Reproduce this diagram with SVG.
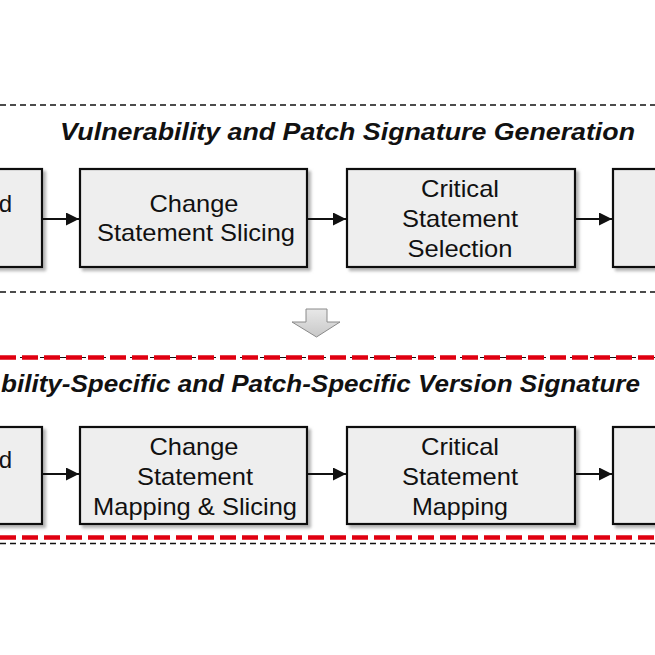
<svg xmlns="http://www.w3.org/2000/svg" width="655" height="655" viewBox="0 0 655 655">
<defs>
<style>
.box{fill:#eeeeee;stroke:#111;stroke-width:2.2;filter:url(#sh)}
.t{font-family:"Liberation Sans",Arial,sans-serif;font-size:24px;fill:#111;text-anchor:middle}
.title{font-family:"Liberation Sans",Arial,sans-serif;font-size:23.5px;font-weight:bold;font-style:italic;fill:#111}
.conn{stroke:#111;stroke-width:1.8;fill:none;marker-end:url(#ah)}
.bd{stroke:#111;stroke-width:1.7;stroke-dasharray:6 4;fill:none}
.rd{stroke:#e00010;stroke-width:4.5;stroke-dasharray:16 6;fill:none}
</style>
<filter id="sh" x="-10%" y="-10%" width="130%" height="130%">
<feDropShadow dx="3" dy="3" stdDeviation="1.8" flood-color="#777" flood-opacity="0.55"/>
</filter>
<marker id="ah" viewBox="0 0 13 13" refX="13" refY="6.5" markerWidth="13" markerHeight="13" markerUnits="userSpaceOnUse" orient="auto">
<path d="M0,0 L13,6.5 L0,13 Z" fill="#111"/>
</marker>
<linearGradient id="ga" x1="0" y1="0" x2="0" y2="1">
<stop offset="0" stop-color="#e8e8e8"/>
<stop offset="1" stop-color="#c8c8c8"/>
</linearGradient>
</defs>
<rect width="655" height="655" fill="#ffffff"/>

<g id="section-lines">
<line class="bd" x1="0" y1="105" x2="655" y2="105"/>
<line class="bd" x1="0" y1="292" x2="655" y2="292"/>
<line class="bd" x1="0" y1="357.5" x2="655" y2="357.5" style="stroke-width:1.2"/>
<line class="rd" x1="0" y1="357.5" x2="655" y2="357.5"/>
<line class="rd" x1="0" y1="537.5" x2="655" y2="537.5"/>
<line class="bd" x1="0" y1="543.5" x2="655" y2="543.5"/>
</g>

<text id="title-top" class="title" x="60" y="140" textLength="575" lengthAdjust="spacingAndGlyphs">Vulnerability and Patch Signature Generation</text>
<text id="title-bottom" class="title" x="1" y="392" textLength="639" lengthAdjust="spacingAndGlyphs">bility-Specific and Patch-Specific Version Signature</text>

<g id="node-top-1">
<rect class="box" x="-10" y="169" width="52" height="98"/>
<text class="t" x="12" y="212" style="text-anchor:end">d</text>
</g>
<g id="node-top-2">
<rect class="box" x="80" y="169" width="227" height="98"/>
<text class="t" x="194" y="212" textLength="89" lengthAdjust="spacingAndGlyphs">Change</text>
<text class="t" x="196" y="241" textLength="198" lengthAdjust="spacingAndGlyphs">Statement Slicing</text>
</g>
<g id="node-top-3">
<rect class="box" x="347" y="169" width="228" height="98"/>
<text class="t" x="460" y="197" textLength="78" lengthAdjust="spacingAndGlyphs">Critical</text>
<text class="t" x="460" y="227" textLength="116" lengthAdjust="spacingAndGlyphs">Statement</text>
<text class="t" x="460" y="257" textLength="105" lengthAdjust="spacingAndGlyphs">Selection</text>
</g>
<g id="node-top-4">
<rect class="box" x="613" y="169" width="60" height="98"/>
</g>

<g id="node-bottom-1">
<rect class="box" x="-10" y="427" width="52" height="97"/>
<text class="t" x="12" y="468" style="text-anchor:end">d</text>
</g>
<g id="node-bottom-2">
<rect class="box" x="80" y="427" width="227" height="97"/>
<text class="t" x="194" y="455" textLength="89" lengthAdjust="spacingAndGlyphs">Change</text>
<text class="t" x="195" y="485" textLength="116" lengthAdjust="spacingAndGlyphs">Statement</text>
<text class="t" x="195" y="515" textLength="204" lengthAdjust="spacingAndGlyphs">Mapping &amp; Slicing</text>
</g>
<g id="node-bottom-3">
<rect class="box" x="347" y="427" width="228" height="97"/>
<text class="t" x="460" y="455" textLength="78" lengthAdjust="spacingAndGlyphs">Critical</text>
<text class="t" x="460" y="485" textLength="116" lengthAdjust="spacingAndGlyphs">Statement</text>
<text class="t" x="460" y="515" textLength="96" lengthAdjust="spacingAndGlyphs">Mapping</text>
</g>
<g id="node-bottom-4">
<rect class="box" x="613" y="427" width="60" height="97"/>
</g>

<g id="connectors">
<line class="conn" x1="43" y1="219" x2="79" y2="219"/>
<line class="conn" x1="308" y1="219" x2="346" y2="219"/>
<line class="conn" x1="576" y1="219" x2="612" y2="219"/>
<line class="conn" x1="43" y1="474" x2="79" y2="474"/>
<line class="conn" x1="308" y1="474" x2="346" y2="474"/>
<line class="conn" x1="576" y1="474" x2="612" y2="474"/>
<polygon id="flow-arrow" points="306,309 327,309 327,322 340,322 316.5,337 292,322 306,322" fill="url(#ga)" stroke="#8a8a8a" stroke-width="1"/>
</g>
</svg>
